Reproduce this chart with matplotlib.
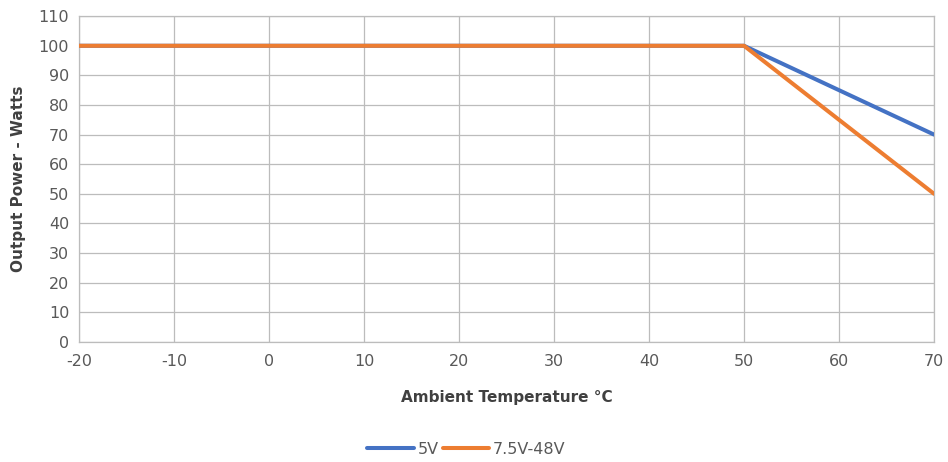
import matplotlib
matplotlib.use("Agg")
import matplotlib.pyplot as plt

temps = [-20, -10, 0, 10, 20, 30, 40, 50, 60, 70]
power_5v = [100, 100, 100, 100, 100, 100, 100, 100, 85, 70]
power_48v = [100, 100, 100, 100, 100, 100, 100, 100, 75, 50]
series_names = ["5V", "7.5V-48V"]
x_ticks = [-20, -10, 0, 10, 20, 30, 40, 50, 60, 70]
y_ticks = [0, 10, 20, 30, 40, 50, 60, 70, 80, 90, 100, 110]

plt.rcParams['font.family'] = ['DejaVu Sans']
plt.rcParams['axes.unicode_minus'] = False

fig = plt.figure(figsize=(9.48, 4.62), dpi=100)
ax = fig.add_axes([0.0833, 0.260, 0.902, 0.705])

grid_c = '#bcbcbc'
ax.plot(temps, power_5v, color='#4472C4', lw=2.9, label=series_names[0], solid_capstyle='round', zorder=3)
ax.plot(temps, power_48v, color='#ED7D31', lw=2.9, label=series_names[1], solid_capstyle='round', zorder=4)

ax.set_xlim(-20, 70)
ax.set_ylim(0, 110)
ax.set_xticks(x_ticks)
ax.set_yticks(y_ticks)
ax.grid(True, color=grid_c, lw=0.9)
ax.set_axisbelow(True)
for s in ax.spines.values():
    s.set_color(grid_c)
    s.set_linewidth(0.9)
ax.tick_params(length=0, colors='#595959', labelsize=11.5, pad=7)
ax.tick_params(axis='x', pad=9)

ax.set_xlabel("Ambient Temperature °C", fontsize=11, fontweight='bold', color='#404040', labelpad=15)
ax.set_ylabel("Output Power - Watts", fontsize=11, fontweight='bold', color='#404040', labelpad=9)

leg = fig.legend(loc='center', bbox_to_anchor=(0.492, 0.028), ncol=2, frameon=False,
                 fontsize=11.5, handlelength=2.9, handletextpad=0.25, columnspacing=0.25,
                 labelcolor='#595959')

fig.savefig("out.png", dpi=100)
